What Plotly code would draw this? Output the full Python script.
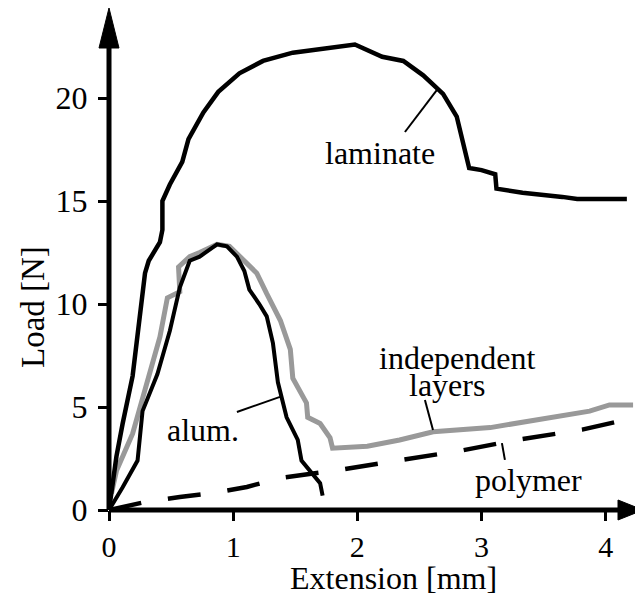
import plotly.graph_objects as go

# ---------------- data ----------------
lam_x = [0, 0.02, 0.06, 0.11, 0.19, 0.29, 0.32, 0.41, 0.43, 0.43, 0.49, 0.59, 0.64, 0.76, 0.88,
         1.05, 1.24, 1.48, 1.72, 1.98, 2.20, 2.37, 2.53, 2.69, 2.80, 2.84, 2.90, 3.00, 3.11,
         3.12, 3.33, 3.65, 3.77, 4.17]
lam_y = [0, 1.0, 2.6, 4.2, 6.5, 11.5, 12.1, 13.0, 13.6, 15.0, 15.8, 16.9, 18.0, 19.3, 20.3,
         21.2, 21.8, 22.2, 22.4, 22.6, 22.0, 21.8, 21.1, 20.2, 19.1, 18.0, 16.6, 16.5, 16.3,
         15.6, 15.4, 15.2, 15.1, 15.1]

alum_x = [0, 0.11, 0.23, 0.27, 0.39, 0.49, 0.57, 0.65, 0.73, 0.87, 0.95, 1.03, 1.09, 1.13,
          1.21, 1.27, 1.32, 1.36, 1.43, 1.52, 1.55, 1.62, 1.70, 1.72]
alum_y = [0, 1.1, 2.4, 4.8, 6.6, 8.7, 10.8, 12.1, 12.3, 12.9, 12.8, 12.3, 11.6, 10.7,
          10.0, 9.4, 8.1, 6.2, 4.5, 3.4, 2.4, 1.9, 1.3, 0.7]

ind_x = [0.02, 0.06, 0.19, 0.31, 0.41, 0.47, 0.57, 0.56, 0.65, 0.73, 0.87, 0.97, 1.05, 1.19,
         1.27, 1.38, 1.46, 1.48, 1.59, 1.60, 1.70, 1.78, 1.80, 2.08, 2.34, 2.61, 3.07, 3.49,
         3.87, 4.03, 4.22]
ind_y = [0.8, 1.9, 3.7, 6.3, 8.4, 10.3, 10.6, 11.8, 12.3, 12.5, 12.9, 12.8, 12.3, 11.5,
         10.5, 9.2, 7.8, 6.4, 5.2, 4.5, 4.2, 3.5, 3.0, 3.1, 3.4, 3.8, 4.0, 4.4,
         4.8, 5.1, 5.1]

pol_x = [0, 0.30, 0.57, 0.85, 1.11, 1.38, 1.86, 2.32, 2.85, 3.28, 3.81, 4.25]
pol_y = [0, 0.40, 0.63, 0.83, 1.12, 1.55, 1.95, 2.40, 2.90, 3.40, 3.90, 4.50]

x_ticks = [0, 1, 2, 3, 4]
y_ticks = [0, 5, 10, 15, 20]

# label text, label position (data), leader line start/end (data)
labels = ["laminate", "alum.", "independent", "layers", "polymer"]
label_x = [2.18, 0.757, 2.81, 2.72, 3.374]
label_y = [17.33, 3.88, 7.38, 6.07, 1.46]
leader_x0 = [2.383, 1.03, 2.544, 3.164]
leader_y0 = [18.35, 4.76, 5.34, 3.25]
leader_x1 = [2.641, 1.377, 2.609, 3.188]
leader_y1 = [20.39, 5.49, 3.88, 2.43]

FONT = "Liberation Serif, Times New Roman, serif"

fig = go.Figure()
fig.add_trace(go.Scatter(x=ind_x, y=ind_y, mode="lines",
                         line=dict(color="#999999", width=5), hoverinfo="skip"))
fig.add_trace(go.Scatter(x=alum_x, y=alum_y, mode="lines",
                         line=dict(color="black", width=4), hoverinfo="skip"))
fig.add_trace(go.Scatter(x=lam_x, y=lam_y, mode="lines",
                         line=dict(color="black", width=4.5), hoverinfo="skip"))
fig.add_trace(go.Scatter(x=pol_x, y=pol_y, mode="lines",
                         line=dict(color="black", width=4.5, dash="33px,27px"), hoverinfo="skip"))

shapes = []
# axis lines with arrow heads (paper coords)
shapes.append(dict(type="line", xref="paper", yref="paper", x0=0, y0=0, x1=0, y1=0.93,
                   line=dict(color="black", width=5)))
shapes.append(dict(type="line", xref="paper", yref="paper", x0=0, y0=0, x1=0.96, y1=0,
                   line=dict(color="black", width=5)))
shapes.append(dict(type="path", xref="paper", yref="paper",
                   path="M -0.0187,0.9203 L 0.0187,0.9203 L 0,1 Z",
                   fillcolor="black", line=dict(color="black", width=1)))
shapes.append(dict(type="path", xref="paper", yref="paper",
                   path="M 0.9532,0.0199 L 0.9532,-0.0199 L 1.0,0 Z",
                   fillcolor="black", line=dict(color="black", width=1)))
for i in range(len(leader_x0)):
    shapes.append(dict(type="line", xref="x", yref="y",
                       x0=leader_x0[i], y0=leader_y0[i], x1=leader_x1[i], y1=leader_y1[i],
                       line=dict(color="black", width=2)))

annotations = []
for t, lx, ly in zip(labels, label_x, label_y):
    annotations.append(dict(text=t, x=lx, y=ly, xref="x", yref="y", showarrow=False,
                            xanchor="center", yanchor="middle",
                            font=dict(family=FONT, size=32, color="black")))
annotations.append(dict(text="Extension [mm]", x=0.532, y=-0.1355, xref="paper", yref="paper",
                        showarrow=False, xanchor="center", yanchor="middle",
                        font=dict(family=FONT, size=32, color="black")))
annotations.append(dict(text="Load [N]", x=-0.1423, y=0.4044, xref="paper", yref="paper",
                        showarrow=False, xanchor="center", yanchor="middle", textangle=-90,
                        font=dict(family=FONT, size=33, color="black")))

# the page body has an 8px margin, so the figure is 8px smaller and shifted accordingly
fig.update_layout(
    width=635, height=587,
    margin=dict(l=101, r=0, t=0, b=85),
    paper_bgcolor="white", plot_bgcolor="white",
    showlegend=False,
    shapes=shapes, annotations=annotations,
    xaxis=dict(range=[0, 4.3], tickvals=x_ticks, ticks="outside", ticklen=10, tickwidth=3,
               tickcolor="black", showgrid=False, zeroline=False, showline=False,
               tickfont=dict(family=FONT, size=30, color="black")),
    yaxis=dict(range=[0, 24.37], tickvals=y_ticks, ticks="outside", ticklen=10, tickwidth=3,
               tickcolor="black", showgrid=False, zeroline=False, showline=False,
               ticklabelstandoff=4,
               tickfont=dict(family=FONT, size=32, color="black")),
)

fig.write_html("out.html")
